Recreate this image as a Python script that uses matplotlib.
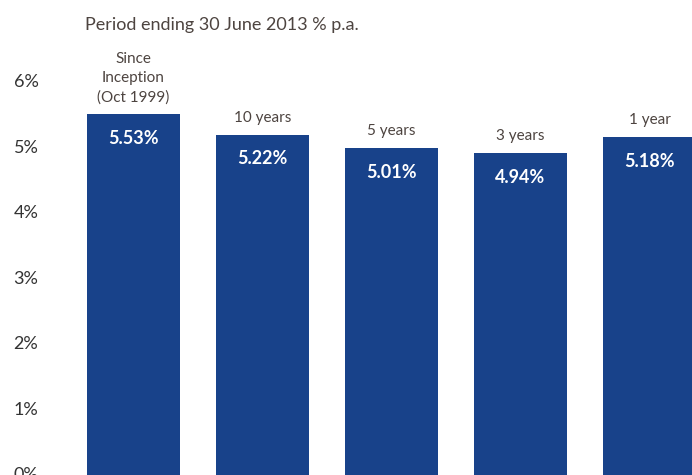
import matplotlib
matplotlib.use("Agg")
import matplotlib.pyplot as plt
from matplotlib.transforms import offset_copy, ScaledTranslation

# Данные графика
CATEGORIES = ["Since\nInception\n(Oct 1999)", "10 years", "5 years", "3 years", "1 year"]
RETURNS = [5.53, 5.22, 5.01, 4.94, 5.18]
Y_TICKS = [0, 1, 2, 3, 4, 5, 6]
TITLE = "Period ending 30 June 2013 % p.a."

BAR_COLOR = "#18428a"
TEXT_COLOR = "#4d4440"

plt.rcParams["font.family"] = ["Lato", "DejaVu Sans"]

W, H = 692, 475
fig = plt.figure(figsize=(W / 100, H / 100), dpi=100)
# оси выходят за правый и нижний край, как в оригинале
ax = fig.add_axes([69 / W, -2 / H, 645 / W, 459 / H])

x = list(range(len(RETURNS)))
ax.bar(x, RETURNS, width=0.72, color=BAR_COLOR)
ax.set_xlim(-0.5, 4.5)
ax.set_ylim(0, 7)

ax.set_yticks(Y_TICKS)
ax.set_yticklabels([f"{t}%" for t in Y_TICKS], fontsize=13, color="#333333")
ax.tick_params(axis="y", length=0, pad=22)
shift = ScaledTranslation(0, 3 / 100, fig.dpi_scale_trans)
for lbl in ax.get_yticklabels():
    lbl.set_transform(lbl.get_transform() + shift)
ax.set_xticks([])
for s in ax.spines.values():
    s.set_visible(False)

for i, (v, cat) in enumerate(zip(RETURNS, CATEGORIES)):
    below = offset_copy(ax.transData, fig=fig, y=-24 / 100 * 72, units="points")
    above = offset_copy(ax.transData, fig=fig, y=10 / 100 * 72, units="points")
    ax.text(i, v, f"{v:.2f}%", transform=below, ha="center", va="center",
            color="white", fontsize=13, fontweight="bold")
    ax.text(i, v, cat, transform=above, ha="center", va="bottom",
            color=TEXT_COLOR, fontsize=11, linespacing=1.45)

fig.text(85 / W, 1 - 30 / H, TITLE, ha="left", va="baseline",
         fontsize=13, color=TEXT_COLOR)

fig.savefig("out.png", dpi=100)
